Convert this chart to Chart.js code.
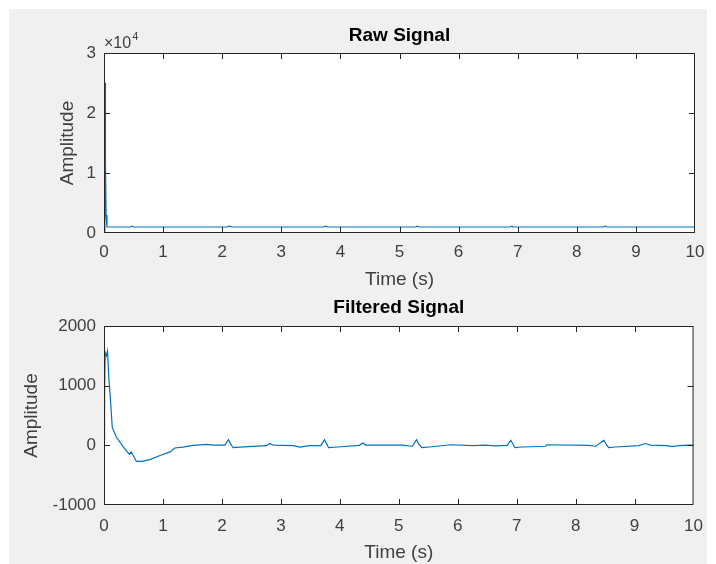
<!DOCTYPE html>
<html>
<head>
<meta charset="utf-8">
<script src="https://cdn.jsdelivr.net/npm/chart.js@4"></script>
<style>
  html, body { margin: 0; padding: 0; background: #ffffff; }
  #fig { position: absolute; left: 9px; top: 9px; width: 698px; height: 555px; background: #f0f0f0; }
  canvas { position: absolute; left: 0; }
  #rawChart { top: 0; }
  #filtChart { top: 292px; }
</style>
</head>
<body>
<div id="fig"></div>
<canvas id="rawChart" width="716" height="292"></canvas>
<canvas id="filtChart" width="716" height="272"></canvas>
<script>
// raw signal: large spike at start, then flat ~1000 with small beats
const rawTime  = [0, 0.015, 0.02, 0.025, 0.035, 0.05, 0.45, 0.47, 0.5, 2.08, 2.12, 2.16, 3.72, 3.75, 3.78, 5.27, 5.30, 5.33, 6.87, 6.90, 6.93, 8.45, 8.48, 8.51, 10];
const rawValue = [300, 25000, 25000, 12000, 3000, 1000, 1000, 1150, 1000, 1000, 1150, 1000, 1000, 1150, 1000, 1000, 1150, 1000, 1000, 1150, 1000, 1000, 1150, 1000, 1000];

// filtered signal
const filtTime = [0.00, 0.01, 0.02, 0.04, 0.06, 0.08, 0.11, 0.14, 0.21, 0.33, 0.43, 0.46, 0.50, 0.55, 0.64, 0.78, 0.95, 1.12, 1.20, 1.34,
  1.51, 1.74, 1.85, 2.05, 2.11, 2.15, 2.19, 2.30, 2.76, 2.81, 2.87, 3.21, 3.32, 3.49, 3.68, 3.74, 3.78, 3.81, 3.96, 4.33,
  4.39, 4.44, 5.06, 5.23, 5.30, 5.34, 5.39, 5.52, 5.88, 6.25, 6.47, 6.64, 6.84, 6.90, 6.94, 6.97, 7.09, 7.49, 7.51, 8.22,
  8.34, 8.48, 8.52, 8.56, 8.67, 9.07, 9.18, 9.27, 9.55, 9.63, 9.75, 9.94, 10.00];
const filtValue = [100, 900, 1560, 1500, 1580, 1160, 760, 300, 140, -30, -150, -110, -180, -270, -270, -240, -170, -110, -45, -30,
  0, 15, 5, 5, 95, 20, -40, -30, -5, 30, 5, -5, -30, -5, -5, 95, 20, -40, -28, 0,
  40, 5, 5, -15, 95, 20, -40, -28, 10, -5, 5, -10, 0, 85, 15, -40, -28, -15, 10, 0,
  -15, 85, 15, -40, -28, -5, 30, 5, -5, -20, -5, 5, 0];

const xTicks = [0, 1, 2, 3, 4, 5, 6, 7, 8, 9, 10];
const rawTicks = [0, 10000, 20000, 30000];
const filtTicks = [-1000, 0, 1000, 2000];

const FONT = "'Liberation Sans', Arial, sans-serif";
const LINE = '#0072BD';
const AXIS = '#262626';

// white plot area, box outline, inward ticks and the exponent label
const matlabAxes = {
  id: 'matlabAxes',
  beforeDraw(chart) {
    const { ctx, chartArea: a } = chart;
    ctx.save();
    ctx.fillStyle = '#ffffff';
    ctx.fillRect(a.left, a.top, a.width, a.height);
    ctx.restore();
  },
  afterDatasetsDraw(chart, args, opts) {
    const { ctx, chartArea: a, scales } = chart;
    const len = 6;
    ctx.save();
    ctx.strokeStyle = AXIS;
    ctx.lineWidth = 1;
    ctx.beginPath();
    scales.x.ticks.forEach(t => {
      const px = Math.round(scales.x.getPixelForValue(t.value)) + 0.5;
      if (px <= a.left + 1 || px >= a.right - 1) return;
      ctx.moveTo(px, a.bottom); ctx.lineTo(px, a.bottom - len);
      ctx.moveTo(px, a.top); ctx.lineTo(px, a.top + len);
    });
    scales.y.ticks.forEach(t => {
      const py = Math.round(scales.y.getPixelForValue(t.value)) + 0.5;
      if (py <= a.top + 1 || py >= a.bottom - 1) return;
      ctx.moveTo(a.left, py); ctx.lineTo(a.left + len, py);
      ctx.moveTo(a.right, py); ctx.lineTo(a.right - len, py);
    });
    ctx.stroke();
    ctx.strokeRect(a.left + 0.5, a.top + 0.5, a.width - 1, a.height - 1);

    if (opts.exponent) {
      ctx.fillStyle = '#404040';
      ctx.textBaseline = 'alphabetic';
      ctx.font = '16px ' + FONT;
      ctx.fillText('\u00d710', a.left, a.top - 5);
      const w = ctx.measureText('\u00d710').width;
      ctx.font = '11px ' + FONT;
      ctx.fillText(String(opts.exponent), a.left + w + 1, a.top - 13);
    }
    ctx.restore();
  }
};

function makeChart(id, title, times, values, yMin, yMax, yTicks, o) {
  const ctx = document.getElementById(id).getContext('2d');
  return new Chart(ctx, {
    type: 'scatter',
    data: {
      datasets: [{
        data: times.map((t, i) => ({ x: t, y: values[i] })),
        showLine: true,
        borderColor: LINE,
        borderWidth: 1.2,
        pointRadius: 0,
        tension: 0
      }]
    },
    options: {
      responsive: false,
      animation: false,
      layout: { padding: { left: 0, right: 21, top: 0, bottom: 0 } },
      plugins: {
        legend: { display: false },
        tooltip: { enabled: false },
        title: {
          display: true,
          text: title,
          fullSize: false,
          color: '#000000',
          font: { family: FONT, size: 19, weight: 'bold', lineHeight: 1 },
          padding: o.titlePad
        },
        matlabAxes: { exponent: o.exponent }
      },
      scales: {
        x: {
          type: 'linear',
          min: 0, max: 10,
          afterBuildTicks: s => { s.ticks = xTicks.map(v => ({ value: v })); },
          afterFit: s => { s.height = 59; },
          grid: { display: false, drawTicks: false },
          border: { display: false },
          ticks: { color: '#404040', padding: o.xTickPad, font: { family: FONT, size: 17, lineHeight: 1 }, maxRotation: 0 },
          title: { display: true, text: 'Time (s)', color: '#404040', padding: { top: 0, bottom: o.xTitlePad },
                   font: { family: FONT, size: 19, lineHeight: 1 } }
        },
        y: {
          type: 'linear',
          min: yMin, max: yMax,
          afterBuildTicks: s => { s.ticks = yTicks.map(v => ({ value: v })); },
          afterFit: s => { s.width = 104; },
          grid: { display: false, drawTicks: false },
          border: { display: false },
          ticks: { color: '#404040', padding: 8, font: { family: FONT, size: 17, lineHeight: 1 },
                   callback: o.yFormat },
          title: { display: true, text: 'Amplitude', color: '#404040', padding: { top: o.yTitlePad, bottom: 0 },
                   font: { family: FONT, size: 19, lineHeight: 1 } }
        }
      }
    },
    plugins: [matlabAxes]
  });
}

makeChart('rawChart', 'Raw Signal', rawTime, rawValue, 0, 30000, rawTicks, {
  titlePad: { top: 26, bottom: 8 },
  xTickPad: 11, xTitlePad: 3, yTitlePad: 58,
  exponent: 4,
  yFormat: v => String(v / 10000)
});

makeChart('filtChart', 'Filtered Signal', filtTime, filtValue, -1000, 2000, filtTicks, {
  titlePad: { top: 6, bottom: 9 },
  xTickPad: 13, xTitlePad: 2, yTitlePad: 22,
  exponent: null,
  yFormat: v => String(v)
});
</script>
</body>
</html>
